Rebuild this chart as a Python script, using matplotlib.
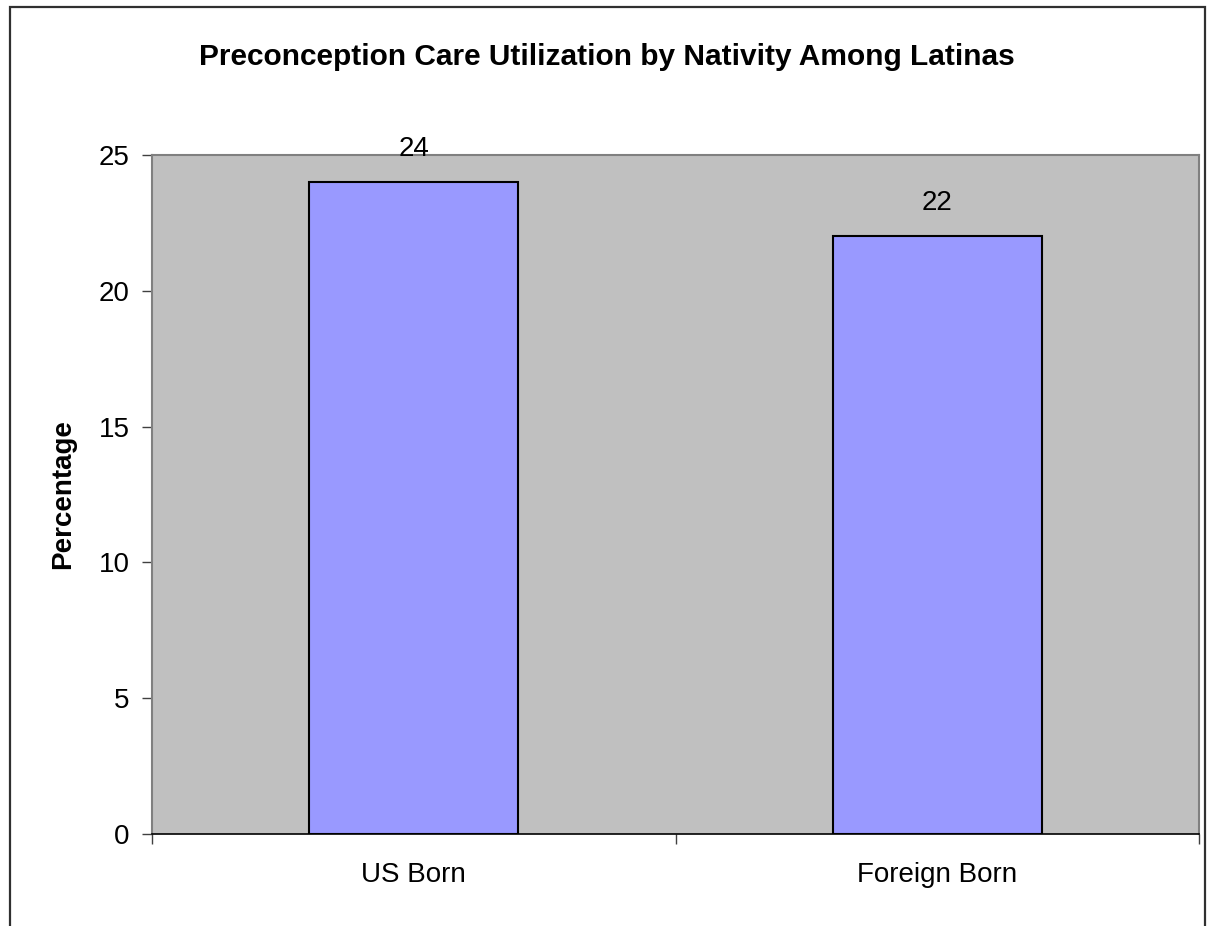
import matplotlib
matplotlib.use("Agg")
import matplotlib.pyplot as plt
from matplotlib.patches import Rectangle

categories = ["US Born", "Foreign Born"]
values = [24, 22]
yticks = [0, 5, 10, 15, 20, 25]

plt.rcParams['font.family'] = ['Liberation Sans', 'DejaVu Sans']

W, H = 1207, 926
fig = plt.figure(figsize=(W / 100, H / 100), dpi=100)
fig.patch.set_facecolor('white')

# outer chart border (bottom edge runs past the canvas)
fig.add_artist(Rectangle((10 / W, -0.05), (1205 - 10) / W, 1.05 - 7 / H,
                         transform=fig.transFigure, fill=False,
                         edgecolor='#303030', linewidth=1.6, clip_on=False))

left, right, top, bottom = 152, 1199, 155, 834
ax = fig.add_axes([left / W, 1 - bottom / H, (right - left) / W, (bottom - top) / H])
ax.set_facecolor('#c0c0c0')

FS = 20
x = list(range(len(categories)))
bars = ax.bar(x, values, width=0.4, color='#9999ff', edgecolor='black', linewidth=1.5, zorder=3)
for xi, v in zip(x, values):
    ax.annotate(f"{v}", xy=(xi, v), xytext=(0, 19), textcoords='offset points',
                ha='center', va='baseline', fontsize=FS, color='black',
                annotation_clip=False)

ax.set_xlim(-0.5, len(categories) - 0.5)
ax.set_ylim(0, 25)
ax.set_yticks(yticks)
ax.set_yticklabels([str(t) for t in yticks], fontsize=FS)

# category labels centred, tick marks between categories
ax.set_xticks([-0.5, 0.5, 1.5])
ax.set_xticklabels([])
ax.set_xticks(x, minor=True)
ax.set_xticklabels(categories, minor=True, fontsize=FS)
ax.tick_params(axis='x', which='minor', length=0, pad=20)
ax.tick_params(axis='x', which='major', length=7, width=1, color='#404040', direction='out')
ax.tick_params(axis='y', length=7, width=1, color='#404040', direction='out', pad=9)

for side in ['top', 'right', 'left']:
    ax.spines[side].set_color('#808080')
    ax.spines[side].set_linewidth(1.5)
ax.spines['bottom'].set_color('black')
ax.spines['bottom'].set_linewidth(1.2)

ax.set_ylabel("Percentage", fontsize=FS, fontweight='bold', labelpad=16)
fig.text(607 / W, 1 - 57 / H,
         "Preconception Care Utilization by Nativity Among Latinas",
         ha='center', va='center', fontsize=21.5, fontweight='bold')

fig.savefig("out.png", dpi=100)
